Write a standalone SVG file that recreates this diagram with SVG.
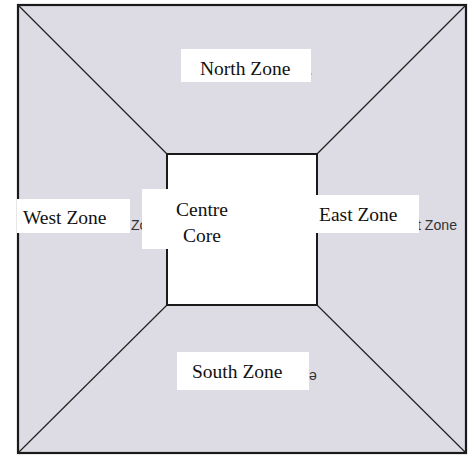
<svg xmlns="http://www.w3.org/2000/svg" width="474" height="463" viewBox="0 0 474 463">
<style>
.lbl{font-family:'Liberation Serif','Times New Roman','DejaVu Serif',serif;font-size:19.5px;fill:#111}
.frag{font-family:'Liberation Sans',Arial,sans-serif;font-size:14px;fill:#333}
.box{fill:#fff;stroke:none}
.diag{stroke:#222;stroke-width:1.2;fill:none}
</style>
<rect width="474" height="463" fill="#fff"/>
<g id="outer">
<rect x="18" y="5" width="448" height="448" fill="#dddbe4" stroke="#1a1a1a" stroke-width="2.2"/>
</g>
<g id="connectors">
<line class="diag" x1="18" y1="5" x2="167" y2="154"/>
<line class="diag" x1="466" y1="5" x2="317" y2="154"/>
<line class="diag" x1="18" y1="453" x2="167" y2="305"/>
<line class="diag" x1="466" y1="453" x2="317" y2="305"/>
</g>
<g id="centre-square">
<rect x="167" y="154" width="150" height="151" fill="#fff" stroke="#1a1a1a" stroke-width="2"/>
</g>
<g id="fragments">
<text class="frag" x="304" y="79">e</text>
<text class="frag" x="131" y="230">Zo</text>
<text class="frag" x="417" y="230" textLength="40" lengthAdjust="spacingAndGlyphs">t Zone</text>
<text class="frag" x="309" y="379.3" transform="rotate(180 312.9 375.5)">e</text>
</g>
<g id="north-zone">
<rect class="box" x="181" y="49" width="130" height="33"/>
<text class="lbl" x="200" y="75">North Zone</text>
</g>
<g id="west-zone">
<rect class="box" x="17" y="199" width="113" height="34"/>
<text class="lbl" x="23" y="224">West Zone</text>
</g>
<g id="centre-core">
<rect class="box" x="142" y="189" width="60" height="60"/>
<text class="lbl" x="202" y="216" text-anchor="middle">Centre</text>
<text class="lbl" x="202" y="242" text-anchor="middle">Core</text>
</g>
<g id="east-zone">
<rect class="box" x="315" y="195" width="104" height="38"/>
<text class="lbl" x="319" y="221">East Zone</text>
</g>
<g id="south-zone">
<rect class="box" x="177" y="352" width="132" height="38"/>
<text class="lbl" x="192" y="378">South Zone</text>
</g>
</svg>
